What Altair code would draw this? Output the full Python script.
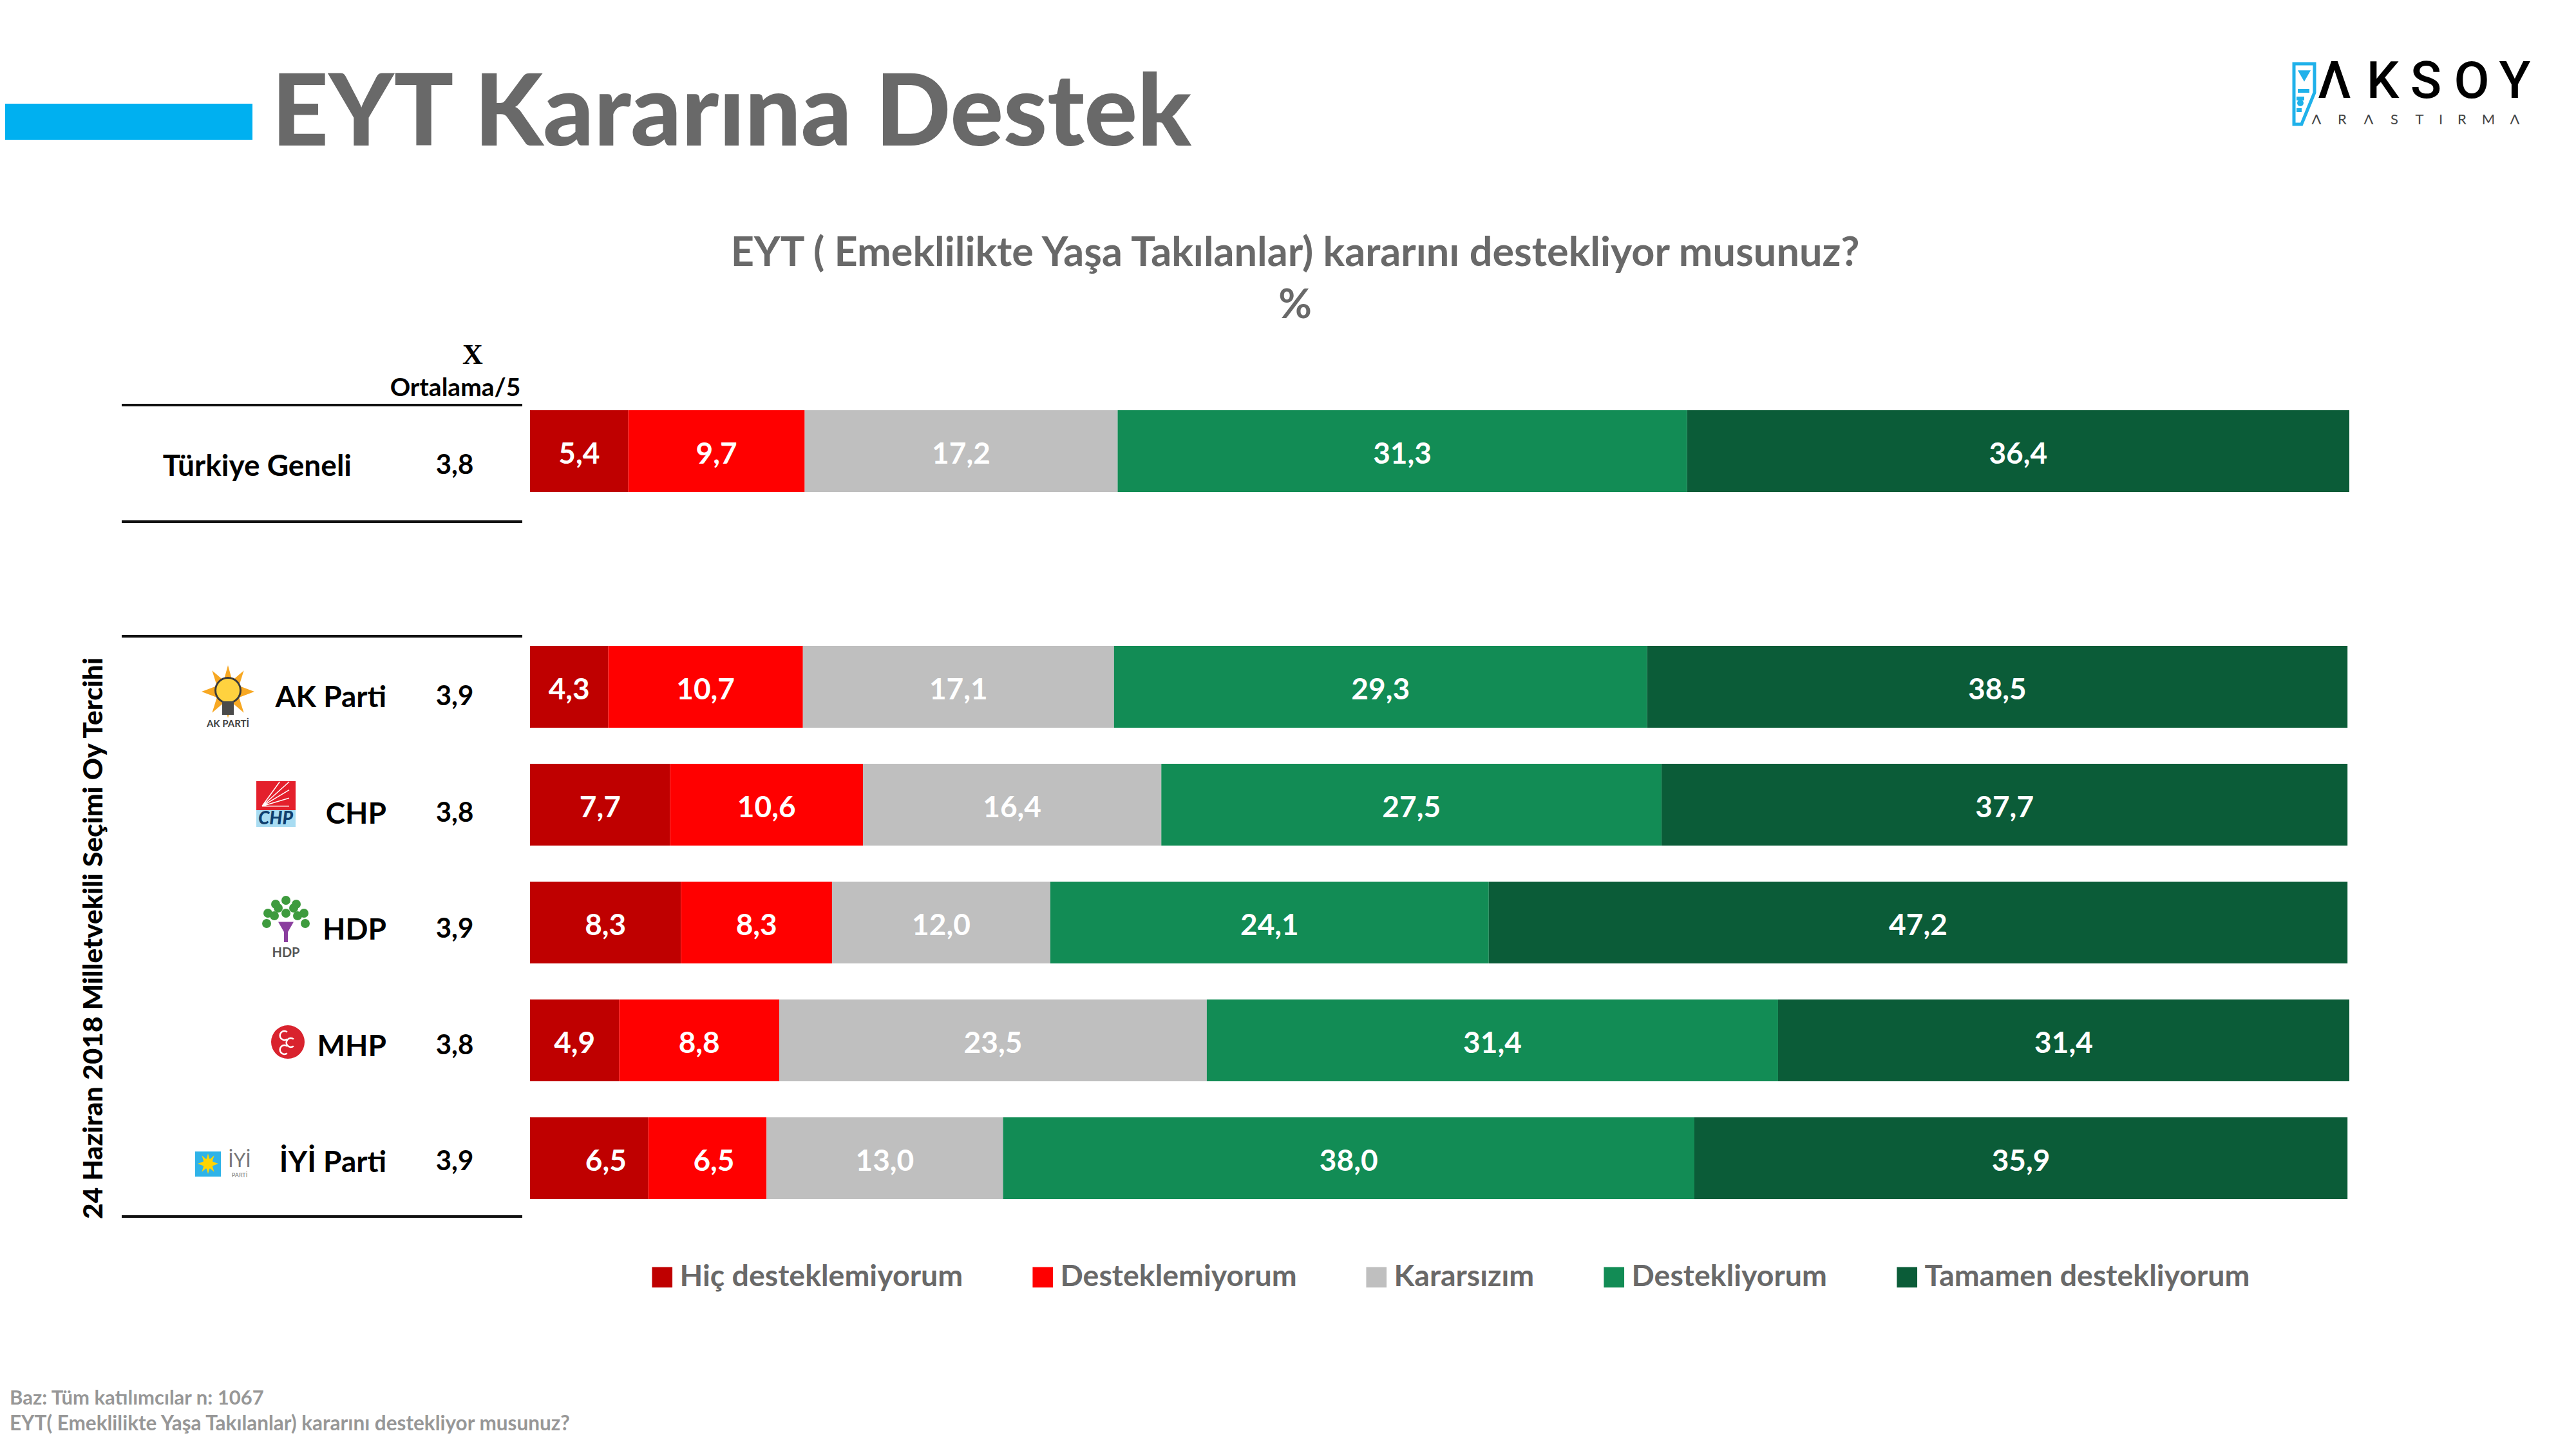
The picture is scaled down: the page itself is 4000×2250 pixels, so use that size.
import altair as alt
import pandas as pd

STANCES = ["Hiç desteklemiyorum", "Desteklemiyorum", "Kararsızım", "Destekliyorum", "Tamamen destekliyorum"]
COLORS = ["#BF0000", "#FF0000", "#BFBFBF", "#128C55", "#0B5C38"]
ROWS = ["Türkiye Geneli", " ", "AK Parti", "CHP", "HDP", "MHP", "İYİ Parti"]
GROUPS = ["Türkiye Geneli", "AK Parti", "CHP", "HDP", "MHP", "İYİ Parti"]
HIC = [5.4, 4.3, 7.7, 8.3, 4.9, 6.5]
DEGIL = [9.7, 10.7, 10.6, 8.3, 8.8, 6.5]
KARARSIZ = [17.2, 17.1, 16.4, 12.0, 23.5, 13.0]
DESTEK = [31.3, 29.3, 27.5, 24.1, 31.4, 38.0]
TAMAMEN = [36.4, 38.5, 37.7, 47.2, 31.4, 35.9]
MEANS = ["3,8", "3,9", "3,8", "3,9", "3,8", "3,9"]
TITLE = "EYT Kararına Destek"
SUBTITLE = "EYT ( Emeklilikte Yaşa Takılanlar) kararını destekliyor musunuz?"
SIDE = "24 Haziran 2018 Milletvekili Seçimi Oy Tercihi"
NOTE_1 = "Baz: Tüm katılımcılar n: 1067"
NOTE_2 = "EYT( Emeklilikte Yaşa Takılanlar) kararını destekliyor musunuz?"

FONT = "Lato"
GREY = "#696969"
M = 8  # page margin: pixel helpers below take page coordinates

rows = []
for i, g in enumerate(GROUPS):
    start = 0.0
    for j, vals in enumerate([HIC, DEGIL, KARARSIZ, DESTEK, TAMAMEN]):
        v = vals[i]
        rows.append({"group": g, "stance": STANCES[j], "order": j, "start": start, "end": start + v,
                     "mid": start + v / 2, "label": f"{v:.1f}".replace(".", ",")})
        start += v
df = pd.DataFrame(rows)

xs = alt.Scale(domain=[0, 100], range=[815, 3640])
ys = alt.Scale(domain=ROWS, range=[601, 1882], paddingInner=0, paddingOuter=0)
Y = alt.Y("group:N", scale=ys, axis=None)

bars = alt.Chart(df).mark_bar(size=127, stroke=None).encode(
    x=alt.X("start:Q", scale=xs, axis=None),
    x2="end:Q",
    y=Y,
    color=alt.Color("stance:N", scale=alt.Scale(domain=STANCES, range=COLORS), legend=alt.Legend(
        title=None, orient="none", legendX=997, legendY=1952, direction="horizontal", columns=5,
        symbolType="square", symbolSize=1000, symbolStrokeWidth=0, labelFont=FONT, labelFontWeight="bold",
        labelFontSize=46.5, labelColor=GREY, columnPadding=100, labelOffset=4, labelLimit=900, symbolOpacity=1)),
    order="order:Q",
)
BAR_TEXT = dict(font=FONT, fontWeight="bold", fontSize=46, color="white")
is_first = "datum.group=='İYİ Parti' && datum.order<2"
bar_text = alt.Chart(df).transform_filter("!(" + is_first + ")").mark_text(dy=5, **BAR_TEXT).encode(
    x=alt.X("mid:Q", scale=xs, axis=None), y=Y, text="label:N")
bar_text_a = alt.Chart(df).transform_filter("datum.group=='İYİ Parti' && datum.order==0").mark_text(
    dx=26, dy=5, **BAR_TEXT).encode(x=alt.X("mid:Q", scale=xs, axis=None), y=Y, text="label:N")
bar_text_b = alt.Chart(df).transform_filter("datum.group=='İYİ Parti' && datum.order==1").mark_text(
    dx=10, dy=5, **BAR_TEXT).encode(x=alt.X("mid:Q", scale=xs, axis=None), y=Y, text="label:N")

one = alt.Data(values=[{"a": 1}])


def txt(s, x, y, size, color="black", weight="bold", align="center", font=FONT, angle=None, italic=False):
    kw = dict(text=s, font=font, fontSize=size, color=color, fontWeight=weight, align=align, baseline="middle")
    if angle is not None:
        kw["angle"] = angle
    if italic:
        kw["fontStyle"] = "italic"
    return alt.Chart(one).mark_text(**kw).encode(x=alt.value(x - M), y=alt.value(y - M))


def rect(x0, y0, x1, y1, color):
    return alt.Chart(one).mark_rect(color=color).encode(
        x=alt.value(x0 - M), x2=alt.value(x1 - M), y=alt.value(y0 - M), y2=alt.value(y1 - M))


def sym(x, y, d, color, shape="circle", filled=True, sw=0):
    return alt.Chart(one).mark_point(shape=shape, size=d * d, filled=filled, opacity=1,
                                     color=color, strokeWidth=sw).encode(
        x=alt.value(x - M), y=alt.value(y - M))


parts = [
    rect(8, 161, 392, 217, "#00B0F0"),
    txt(TITLE, 1136, 180, 154, GREY, weight=900),
    txt(SUBTITLE, 2011, 394, 63, GREY),
    txt("%", 2011, 475, 63, GREY),
    txt("X", 734, 552, 44, font="Liberation Serif"),
    txt("Ortalama/5", 707, 603, 39),
    txt(SIDE, 146, 1457, 42.5, angle=270, weight=900),
    txt(NOTE_1, 15, 2172, 31, "#979797", align="left"),
    txt(NOTE_2, 15, 2212, 31.5, "#979797", align="left"),
]
for y in [629, 810, 988, 1889]:
    parts.append(rect(189, y - 2, 811, y + 2, "#111111"))

# row labels and means sit slightly below the bar centres
nudges = [24, 17, 15, 12, 10, 7]
centres = [700.5, 1067, 1250, 1432.5, 1616, 1798.5]
for g, m, n, c in zip(GROUPS, MEANS, nudges, centres):
    right = 546 if g == "Türkiye Geneli" else 600
    parts.append(txt(g, right, c + n, 46, align="right"))
    parts.append(txt(m, 706, c + n - 2, 42))

# AK Parti logo
STAR = "M0,-1L.16,-.42L.6,-.8L.42,-.22L1,0L.42,.22L.6,.8L.16,.42L0,1L-.16,.42L-.6,.8L-.42,.22L-1,0L-.42,-.22L-.6,-.8L-.16,-.42Z"
parts += [
    sym(354, 1074, 82, "#F7A823", STAR),
    sym(354, 1072, 42, "#3A3A3A"),
    sym(354, 1072, 36, "#FFD23F"),
    rect(345, 1089, 363, 1110, "#4A4A4A"),
    txt("AK PARTİ", 354, 1124, 15, "#444444"),
]
# CHP logo
RAYS = "M-1,.8L1,-1M-1,.8L1,-.4M-1,.8L1,.2M-1,.8L1,.8M-1,.8L.3,-1"
parts += [
    rect(398, 1213, 459, 1258, "#E4202C"),
    rect(398, 1258, 459, 1284, "#A8DCF2"),
    sym(428, 1235, 42, "white", RAYS, filled=False, sw=1.5),
    txt("CHP", 428, 1272, 28, "#0F3F6E", weight=900, italic=True),
]
# HDP logo
for dx, dy in [(-28, -14), (-16, -28), (0, -34), (16, -28), (28, -14), (-18, -10), (0, -14), (18, -10), (-30, 2), (30, 2), (-12, -22), (12, -22)]:
    parts.append(sym(444 + dx, 1432 + dy, 14, "#3E9B3E"))
parts += [
    rect(441, 1440, 447, 1463, "#8A3E9E"),
    sym(444, 1442, 24, "#8A3E9E", "triangle-down"),
    txt("HDP", 444, 1480, 20, "#555555"),
]
# MHP logo
CRESCENT = "M.55,-.8A1,1 0 1,0 .55,.8"
parts += [sym(447, 1618, 52, "#D9232E")]
for dx, dy in [(-5, -10), (5, 1), (-5, 12)]:
    parts.append(sym(447 + dx, 1618 + dy, 14, "white", CRESCENT, filled=False, sw=2.5))
# İYİ Parti logo
parts += [
    rect(303, 1788, 343, 1827, "#2FB3E8"),
    sym(323, 1807, 32, "#FFD400", STAR),
    sym(323, 1807, 16, "#FFD400"),
    txt("İYİ", 372, 1803, 30, "#777777", weight="normal"),
    txt("PARTİ", 372, 1825, 9, "#777777", weight="normal"),
]
# Aksoy logo
OWL = "M-.34,-1L.34,-1L.34,-.05L-.09,1L-.34,1Z"
parts.append(sym(3578, 146, 94, "#1FB1EA", OWL, filled=False, sw=5))
parts += [
    sym(3578, 118, 20, "#1FB1EA", "triangle-down"),
    sym(3572, 160, 10, "#1FB1EA"),
    rect(3568, 138, 3586, 144, "#1FB1EA"),
    rect(3566, 150, 3578, 156, "#1FB1EA"),
    rect(3566, 168, 3574, 174, "#1FB1EA"),
]
for ch, x in zip("ΛKSOY", [3625, 3700, 3767, 3838, 3905]):
    parts.append(txt(ch, x, 128, 80, "black", weight=500, font="Roboto"))
for ch, x in zip("ΛRΛSTIRMΛ", [3597, 3637, 3678, 3718, 3757, 3790, 3823, 3864, 3905]):
    parts.append(txt(ch, x, 186, 22, "#444444", weight="normal"))

chart = alt.layer(bars, bar_text, bar_text_a, bar_text_b, *parts).properties(
    width=3984, height=2234, padding=0, autosize=alt.AutoSizeParams(type="none"),
    background="white",
).configure_view(stroke=None)

chart.save("out.html", embed_options={"renderer": "svg", "actions": False})
